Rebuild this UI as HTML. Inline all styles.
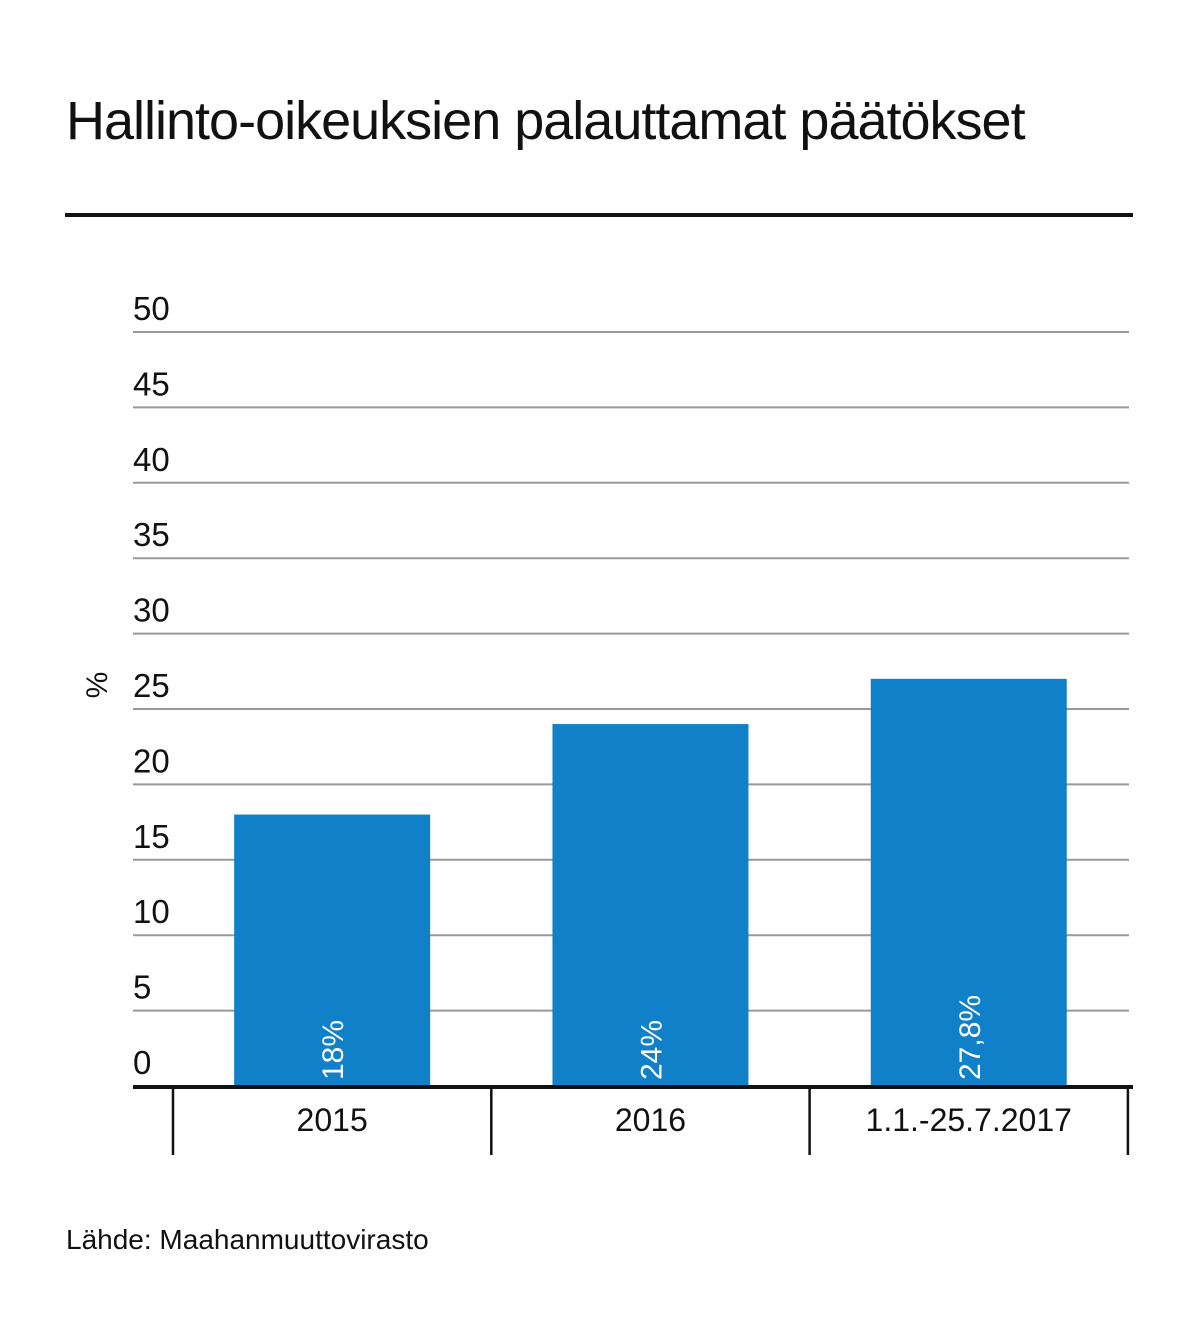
<!DOCTYPE html>
<html><head><meta charset="utf-8">
<style>
html,body{margin:0;padding:0;background:#fff;}
body{width:1199px;height:1330px;position:relative;overflow:hidden;font-family:"Liberation Sans",sans-serif;}
</style></head>
<body>
<div style="position:absolute;left:66px;top:90px;font-size:54px;color:#111;letter-spacing:-1px;">Hallinto-oikeuksien palauttamat päätökset</div>
<div style="position:absolute;left:65px;top:213px;width:1068px;height:4px;background:#111;"></div>
<svg width="1199" height="1330" style="position:absolute;left:0;top:0" id="chart"></svg>
<div style="position:absolute;left:66px;top:1224px;font-size:28px;color:#111;">Lähde: Maahanmuuttovirasto</div>
<script>
const categories = ["2015","2016","1.1.-25.7.2017"];
const values = [18,24,27];
const valueLabels = ["18%","24%","27,8%"];
const ticks = [0,5,10,15,20,25,30,35,40,45,50];
const NS="http://www.w3.org/2000/svg";
const svg=document.getElementById('chart');
const y0=1086, pxPerUnit=15.08, x0=173, bandW=318.3, barW=196;
function y(v){return y0-v*pxPerUnit;}
function xBand(i){return x0+i*bandW;}
function mk(t,a,p){const e=document.createElementNS(NS,t);for(const k in a)e.setAttribute(k,a[k]);(p||svg).appendChild(e);return e;}
ticks.forEach(t=>{
  if(t>0){const l=mk('line',{x1:133,x2:1129,y1:y(t),y2:y(t),stroke:'#999','stroke-width':2});
  
  }
  const tx=mk('text',{x:133,y:y(t)-12,'font-size':33,fill:'#111'});
  tx.textContent=t;
  
  
});
const pc=mk('text',{x:0,y:0,'font-size':30,fill:'#111',transform:'translate(107,685) rotate(-90)','text-anchor':'middle'});
pc.textContent='%';


categories.forEach((c,i)=>{
  const cx=xBand(i)+bandW/2;
  const r=mk('rect',{x:cx-barW/2,y:y(values[i]),width:barW,height:y0-y(values[i]),fill:'#1080c8'});
  
  
  const vl=mk('text',{x:0,y:0,'font-size':30,fill:'#fff',transform:`translate(${cx+11},${y0-6}) rotate(-90)`});
  vl.textContent=valueLabels[i];
  
  
  const cl=mk('text',{x:cx,y:1131,'font-size':32,fill:'#111','text-anchor':'middle'});
  cl.textContent=c;
  
  
});
for(let i=0;i<=categories.length;i++){
  const l=mk('line',{x1:xBand(i),x2:xBand(i),y1:1087,y2:1155,stroke:'#111','stroke-width':2.5});
  
  
}
const base=mk('line',{x1:133,x2:1133,y1:y0+1,y2:y0+1,stroke:'#111','stroke-width':4});


</script>
</body></html>
